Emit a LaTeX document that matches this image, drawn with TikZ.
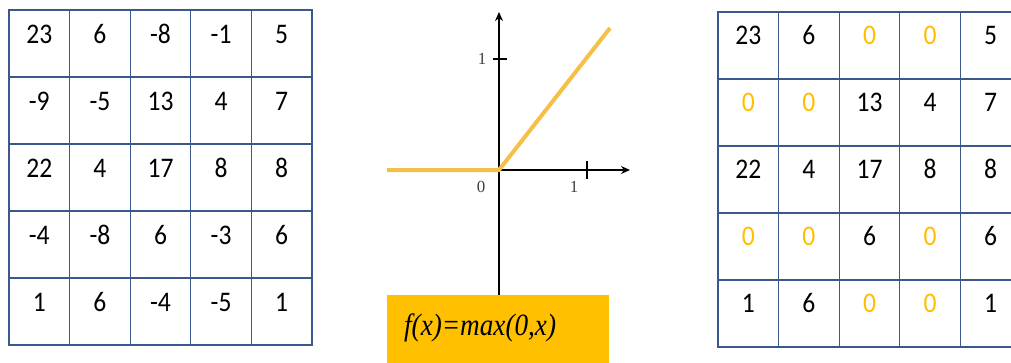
\documentclass[tikz,border=0pt]{standalone}
\usepackage{fontspec}
\setmainfont{Carlito}
\newfontfamily\timesfont{Liberation Serif}
\usetikzlibrary{arrows.meta}
\definecolor{gridblue}{RGB}{58,88,140}
\definecolor{relu}{RGB}{246,192,72}
\definecolor{zerocol}{RGB}{255,190,0}
\definecolor{boxyellow}{RGB}{255,192,0}
\tikzset{
  cellbox/.style={draw=gridblue, line width=1.3bp, minimum width=60.6bp, minimum height=67bp, inner sep=0pt},
  num/.style={anchor=base, font=\fontsize{28.5}{28.5}\selectfont, xscale=0.9, inner sep=0pt},
  axis/.style={draw=black, line width=1.4bp},
  axisarrow/.style={axis, -{Stealth[length=9bp,width=8bp]}},
  ticklabel/.style={font=\timesfont\fontsize{17}{17}\selectfont, text=black!75, inner sep=0pt},
  reluline/.style={draw=relu, line width=4bp},
  formulabox/.style={fill=boxyellow, draw=none, minimum width=222bp, minimum height=70bp, inner sep=0pt},
  formula/.style={font=\timesfont\itshape\fontsize{31}{31}\selectfont, xscale=0.88, inner sep=0pt, anchor=west}
}
\begin{document}
\begin{tikzpicture}[x=1bp,y=-1bp]
\useasboundingbox (0,0) rectangle (1011,362);
\clip (0,0) rectangle (1011,362);
% left grid
\foreach \row [count=\r] in {{23,6,-8,-1,5},{-9,-5,13,4,7},{22,4,17,8,8},{-4,-8,6,-3,6},{1,6,-4,-5,1}} {
  \foreach \v [count=\c] in \row {
    \node[cellbox] (LC-\r-\c) at ({9+(\c-0.5)*60.6},{10+(\r-0.5)*67}) {};
    \node[num] (L-\r-\c) at ({9+(\c-0.5)*60.6},{10+(\r-1)*67+33}) {\v};
  }
}
% right grid
\foreach \row [count=\r] in {{23,6,0,0,5},{0,0,13,4,7},{22,4,17,8,8},{0,0,6,0,6},{1,6,0,0,1}} {
  \foreach \v [count=\c] in \row {
    \ifnum\v=0 \def\numcol{zerocol}\else\def\numcol{black}\fi
    \node[cellbox] (RC-\r-\c) at ({718+(\c-0.5)*60.6},{12+(\r-0.5)*67}) {};
    \node[num, text=\numcol] (R-\r-\c) at ({718+(\c-0.5)*60.6},{12+(\r-1)*67+32}) {\v};
  }
}
% ReLU plot
\coordinate (O) at (499,170);
\coordinate (ybot) at (499,295);
\coordinate (ytop) at (499,12);
\coordinate (xleft) at (387,170);
\coordinate (xright) at (630,170);
\coordinate (xt1) at (587,161);
\coordinate (xt2) at (587,179);
\coordinate (yt1) at (493,59);
\coordinate (yt2) at (507,59);
\coordinate (rend) at (610,28);
\draw[axisarrow] (ybot) -- (ytop);
\draw[axisarrow] (xleft) -- (xright);
\draw[axis] (xt1) -- (xt2);
\draw[axis] (yt1) -- (yt2);
\node[ticklabel] (ylab1) at (482,59) {1};
\node[ticklabel] (xlab0) at (481,187) {0};
\node[ticklabel] (xlab1) at (574,187) {1};
\draw[reluline] (xleft) -- (O) -- (rend);
% formula box
\node[formulabox] (fbox) at (498,330) {};
\node[formula] (ftext) at (404,328) {f(x)=max(0,x)};
\end{tikzpicture}
\end{document}
